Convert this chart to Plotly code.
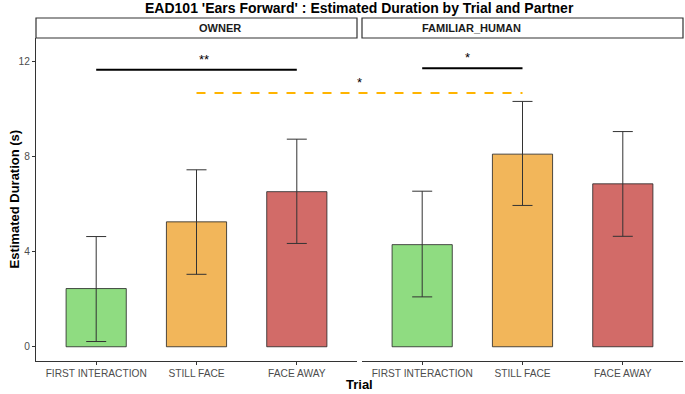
import plotly.graph_objects as go

trials = ["FIRST INTERACTION", "STILL FACE", "FACE AWAY"]
partners = ["OWNER", "FAMILIAR_HUMAN"]
colors = ["#8FDC81", "#F2B65A", "#D26B68"]

owner_mean = [2.45, 5.26, 6.53]
owner_low = [0.22, 3.05, 4.35]
owner_high = [4.64, 7.45, 8.74]

fam_mean = [4.30, 8.11, 6.86]
fam_low = [2.10, 5.95, 4.65]
fam_high = [6.55, 10.33, 9.06]

y_ticks = [0, 4, 8, 12]

# significance comparisons: (panel_a, trial_a, panel_b, trial_b, y, label, style)
sig_panel_a = [0, 1, 0]
sig_trial_a = [0, 0, 1]
sig_panel_b = [0, 1, 1]
sig_trial_b = [2, 1, 1]
sig_y = [11.66, 11.73, 10.68]
sig_label = ["**", "*", "*"]
sig_color = ["black", "black", "#FFB400"]
sig_dash = ["solid", "solid", "dash"]

W, H = 685, 394
L, R, T, B = 36, 2, 38, 33
plot_w = W - L - R
gap = 5
panel_w = (plot_w - gap) / 2
dom1 = [0, panel_w / plot_w]
dom2 = [(panel_w + gap) / plot_w, 1]
xr = [-0.6, 2.6]
yr = [-0.6, 13.0]

fig = go.Figure()
data = [(owner_mean, owner_low, owner_high), (fam_mean, fam_low, fam_high)]
for i, (m, lo, hi) in enumerate(data):
    fig.add_trace(go.Bar(
        x=trials, y=m,
        marker=dict(color=colors, line=dict(color="#222222", width=0.8)),
        width=0.6,
        error_y=dict(type="data", symmetric=False,
                     array=[h - v for h, v in zip(hi, m)],
                     arrayminus=[v - l for v, l in zip(m, lo)],
                     color="#333333", thickness=1, width=10),
        xaxis="x" if i == 0 else "x2", yaxis="y" if i == 0 else "y2",
        showlegend=False,
    ))

tickfont = dict(family="Liberation Sans, Arial", size=10.2, color="#4D4D4D")
axcommon = dict(showgrid=False, zeroline=False, showline=True, linecolor="#333333",
                linewidth=1, ticks="outside", ticklen=3, tickcolor="#333333",
                tickfont=tickfont)
fig.update_layout(
    width=W, height=H, margin=dict(l=L, r=R, t=T, b=B),
    plot_bgcolor="white", paper_bgcolor="white",
    bargap=0.4,
    xaxis=dict(domain=dom1, range=xr, type="category", **axcommon),
    xaxis2=dict(domain=dom2, range=xr, type="category", **axcommon),
    yaxis=dict(range=yr, tickvals=y_ticks, anchor="x", **axcommon),
    yaxis2=dict(range=yr, anchor="x2", showgrid=False, zeroline=False,
                showline=False, showticklabels=False, ticks=""),
)

def to_paper(panel, xv):
    d = dom1 if panel == 0 else dom2
    return d[0] + (xv - xr[0]) / (xr[1] - xr[0]) * (d[1] - d[0])

shapes = []
annots = []
for pa, ta, pb, tb, yv, lab, col, dash in zip(sig_panel_a, sig_trial_a, sig_panel_b,
                                               sig_trial_b, sig_y, sig_label, sig_color, sig_dash):
    x0 = to_paper(pa, ta)
    x1 = to_paper(pb, tb)
    shapes.append(dict(type="line", xref="paper", yref="y", x0=x0, x1=x1, y0=yv, y1=yv,
                       line=dict(color=col, width=2, dash=dash)))
    annots.append(dict(xref="paper", yref="y", x=(x0 + x1) / 2, y=yv, text=lab,
                       showarrow=False, yanchor="bottom", yshift=1,
                       font=dict(family="Liberation Sans, Arial", size=13, color="black")))

strip_h = 20 / (H - T - B)
for d, p in zip([dom1, dom2], partners):
    shapes.append(dict(type="rect", xref="paper", yref="paper", x0=d[0], x1=d[1],
                       y0=1, y1=1 + strip_h, line=dict(color="#333333", width=1.2),
                       fillcolor="white"))
    annots.append(dict(xref="paper", yref="paper", x=(d[0] + d[1]) / 2, y=1 + strip_h / 2,
                       text="<b>" + p + "</b>", showarrow=False, yanchor="middle",
                       font=dict(family="Liberation Sans, Arial", size=11, color="#1A1A1A")))

annots.append(dict(xref="paper", yref="paper", x=0.5, y=1, yshift=30, text="<b>EAD101 'Ears Forward' : Estimated Duration by Trial and Partner</b>",
                   showarrow=False, yanchor="middle",
                   font=dict(family="Liberation Sans, Arial", size=14, color="black")))
annots.append(dict(xref="paper", yref="paper", x=0.5, y=0, yshift=-23, text="<b>Trial</b>",
                   showarrow=False, yanchor="middle",
                   font=dict(family="Liberation Sans, Arial", size=13, color="black")))
annots.append(dict(xref="paper", yref="paper", x=0, xshift=-22, y=0.5, text="<b>Estimated Duration (s)</b>",
                   showarrow=False, textangle=-90, xanchor="center", yanchor="middle",
                   font=dict(family="Liberation Sans, Arial", size=13, color="black")))

fig.update_layout(shapes=shapes, annotations=annots)
fig.write_html("out.html")
